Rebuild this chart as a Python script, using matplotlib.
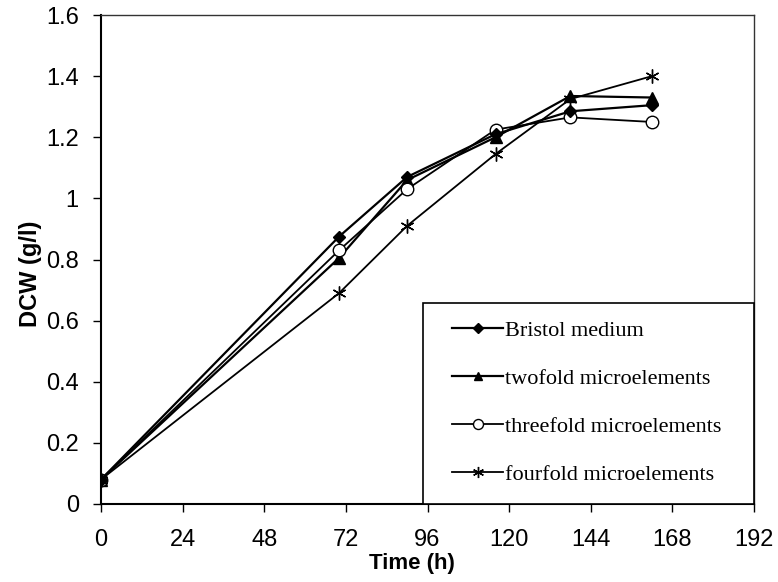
import matplotlib
matplotlib.use("Agg")
import matplotlib.pyplot as plt
from matplotlib.patches import Rectangle

hours = [0, 70, 90, 116, 138, 162]
bristol = [0.08, 0.875, 1.07, 1.21, 1.285, 1.305]
twofold = [0.08, 0.805, 1.06, 1.20, 1.335, 1.33]
threefold = [0.08, 0.83, 1.03, 1.225, 1.265, 1.25]
fourfold = [0.08, 0.69, 0.91, 1.145, 1.325, 1.40]
labels = ["Bristol medium", "twofold microelements",
          "threefold microelements", "fourfold microelements"]
xticks = [0, 24, 48, 72, 96, 120, 144, 168, 192]
yticks = [0, 0.2, 0.4, 0.6, 0.8, 1.0, 1.2, 1.4, 1.6]
yticklabels = ["0", "0.2", "0.4", "0.6", "0.8", "1", "1.2", "1.4", "1.6"]

fig = plt.figure(figsize=(7.78, 5.82), dpi=100)
ax = fig.add_axes([101/778, 1-504/582, 653/778, 489/582])

ax.plot(hours, bristol, color="black", lw=1.6, marker="D", ms=6,
        mfc="black", mec="black", label=labels[0], zorder=4)
ax.plot(hours, twofold, color="black", lw=1.6, marker="^", ms=8,
        mfc="black", mec="black", label=labels[1], zorder=3)
ax.plot(hours, threefold, color="black", lw=1.3, marker="o", ms=9,
        mfc="white", mec="black", mew=1.0, label=labels[2], zorder=3)
ax.plot(hours, fourfold, color="black", lw=1.3, marker=(6, 2, 0), ms=10,
        mec="black", mew=1.0, label=labels[3], zorder=3)

ax.set_xlim(0, 192)
ax.set_ylim(0, 1.6)
ax.set_xticks(xticks)
ax.set_xticklabels([str(v) for v in xticks], fontfamily="Liberation Sans", fontsize=17)
ax.set_yticks(yticks)
ax.set_yticklabels(yticklabels, fontfamily="Liberation Sans", fontsize=17)
ax.tick_params(axis="both", direction="out", length=6, width=1.0, color="black")
ax.tick_params(axis="y", pad=10)
ax.tick_params(axis="x", pad=12)

for s in ["left", "bottom"]:
    ax.spines[s].set_linewidth(1.5)
for s in ["top", "right"]:
    ax.spines[s].set_linewidth(1.0)
    ax.spines[s].set_color("#333333")

ax.set_xlabel("Time (h)", fontfamily="Liberation Sans", fontweight="bold", fontsize=16)
ax.xaxis.set_label_coords(0.476, -0.1)
ax.set_ylabel("DCW (g/l)", fontfamily="Liberation Sans", fontweight="bold", fontsize=17)
ax.yaxis.set_label_coords(-0.09, 0.47)

# legend frame
box_x0 = (423 - 101) / 653
box_top = (504 - 303) / 489
ax.add_patch(Rectangle((box_x0, 0), 1 - box_x0, box_top, transform=ax.transAxes,
                       facecolor="white", edgecolor="black", lw=1.2, zorder=5,
                       clip_on=False))

leg = ax.legend(loc="center left", bbox_to_anchor=((452 - 101) / 653, (504 - 402.5) / 489),
                borderaxespad=0, borderpad=0, frameon=False,
                prop={"family": "Liberation Serif", "size": 16},
                handlelength=2.3, handletextpad=0.1, labelspacing=1.23,
                markerscale=0.8)
leg.set_zorder(6)

fig.savefig("out.png", dpi=100)
